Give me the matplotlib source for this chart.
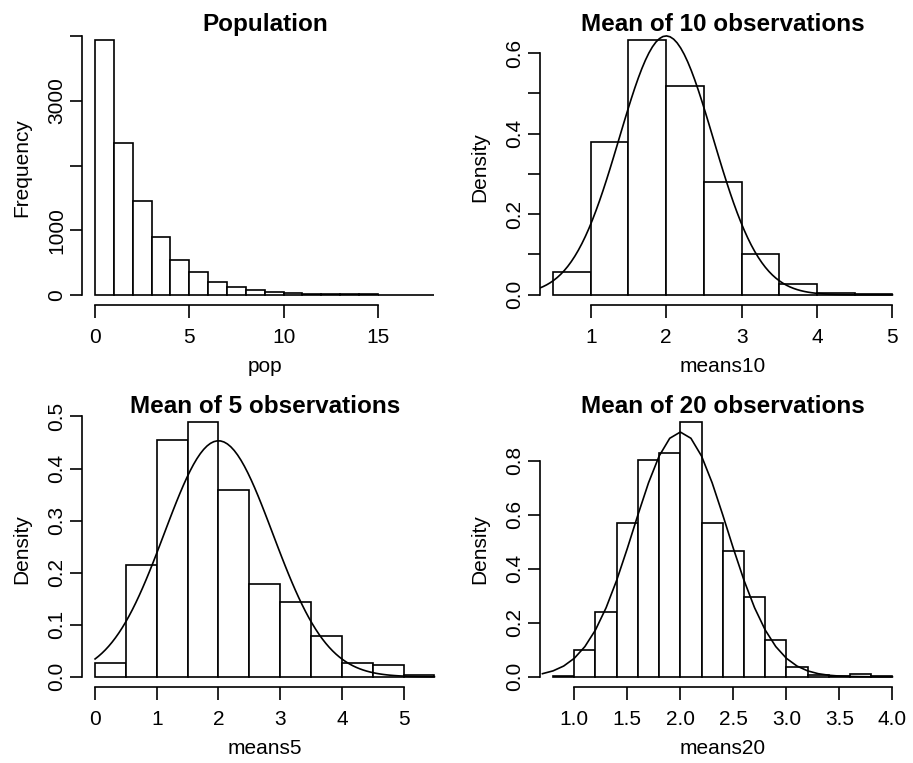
import numpy as np
import matplotlib.pyplot as plt

plt.rcParams['font.family'] = ['Liberation Sans', 'DejaVu Sans']

# === Data ===
# Population (frequency histogram, bin width 1)
pop_breaks = np.arange(0, 19, 1)
pop_counts = [3950, 2350, 1455, 890, 535, 350, 205, 128, 67, 51,
              31, 20, 12, 8, 6, 3, 2, 1]

# Mean of 10 observations (density, bin width 0.5)
means10_breaks = np.arange(0.5, 5.01, 0.5)
means10_density = [0.056, 0.378, 0.633, 0.517, 0.280, 0.102, 0.027, 0.005, 0.002]
means10_norm = (2.0, 0.621)          # mean, sd of the overlaid normal curve

# Mean of 5 observations (density, bin width 0.5)
means5_breaks = np.arange(0.0, 5.51, 0.5)
means5_density = [0.027, 0.214, 0.455, 0.490, 0.358, 0.178, 0.144, 0.079,
                  0.026, 0.022, 0.003]
means5_norm = (2.0, 0.88)

# Mean of 20 observations (density, bin width 0.2)
means20_breaks = np.round(np.arange(0.8, 4.01, 0.2), 1)
means20_density = [0.003, 0.100, 0.240, 0.568, 0.804, 0.830, 0.945, 0.571,
                   0.466, 0.295, 0.135, 0.035, 0.005, 0.004, 0.009, 0.004]
means20_norm = (2.0, 0.44)

LW = 1.2
TICK_FS = 15
LABEL_FS = 15
TITLE_FS = 17.5

W, H = 913, 763
fig = plt.figure(figsize=(W / 100, H / 100), dpi=100)


def panel(left_px, top_px, breaks, heights, title, xlabel, ylabel,
          xticks, xticklabels, yticks, yticklabels, norm=None, curve_x=None):
    w_px, h_px = 366.5, 275.5
    ax = fig.add_axes([left_px / W, 1 - (top_px + h_px) / H, w_px / W, h_px / H])

    ax.bar(breaks[:-1], heights, width=np.diff(breaks), align='edge',
           color='white', edgecolor='black', linewidth=LW)

    # R style: 4% extension around the data range
    x0, x1 = breaks[0], breaks[-1]
    dx = 0.04 * (x1 - x0)
    ax.set_xlim(x0 - dx, x1 + dx)
    ymax = max(heights)
    ax.set_ylim(-0.04 * ymax, 1.04 * ymax)

    if norm is not None:
        lo, hi, n = curve_x
        if lo is None:
            lo = x0 - dx
        xs = np.linspace(lo, hi, n)
        mu, sd = norm
        ys = np.exp(-0.5 * ((xs - mu) / sd) ** 2) / (sd * np.sqrt(2 * np.pi))
        ax.plot(xs, ys, color='black', linewidth=LW)

    for s in ('top', 'right'):
        ax.spines[s].set_visible(False)
    for s in ('left', 'bottom'):
        ax.spines[s].set_linewidth(LW)
    ax.spines['left'].set_bounds(yticks[0], yticks[-1])
    ax.spines['bottom'].set_bounds(xticks[0], xticks[-1])

    ax.set_xticks(xticks, xticklabels)
    ax.set_yticks(yticks, yticklabels, rotation=90, va='center')
    ax.tick_params(axis='both', direction='out', length=9, width=LW,
                   labelsize=TICK_FS, color='black')
    ax.tick_params(axis='x', pad=7.6)
    ax.tick_params(axis='y', pad=1.8)

    ax.set_title(title, fontsize=TITLE_FS, fontweight='bold', y=1.0, pad=-1.0)

    ax.set_xlabel(xlabel, fontsize=LABEL_FS)
    ax.xaxis.label.set_va('baseline')
    ax.xaxis.set_label_coords(0.5, -67.5 / h_px)

    ax.set_ylabel(ylabel, fontsize=LABEL_FS)
    ax.yaxis.label.set_rotation_mode('anchor')
    ax.yaxis.label.set_va('baseline')
    ax.yaxis.label.set_ha('center')
    ax.yaxis.set_label_coords(-54.5 / w_px, 0.5)
    return ax


panel(81.5, 29.5, pop_breaks, pop_counts, 'Population', 'pop', 'Frequency',
      [0, 5, 10, 15], ['0', '5', '10', '15'],
      [0, 1000, 2000, 3000, 4000], ['0', '1000', '', '3000', ''])

panel(539.5, 29.5, means10_breaks, means10_density, 'Mean of 10 observations',
      'means10', 'Density',
      [1, 2, 3, 4, 5], ['1', '2', '3', '4', '5'],
      [0, 0.1, 0.2, 0.3, 0.4, 0.5, 0.6], ['0.0', '', '0.2', '', '0.4', '', '0.6'],
      norm=means10_norm, curve_x=(None, 5.0, 101))

panel(81.5, 411.5, means5_breaks, means5_density, 'Mean of 5 observations',
      'means5', 'Density',
      [0, 1, 2, 3, 4, 5], ['0', '1', '2', '3', '4', '5'],
      [0, 0.1, 0.2, 0.3, 0.4, 0.5], ['0.0', '0.1', '0.2', '0.3', '0.4', '0.5'],
      norm=means5_norm, curve_x=(0.0, 5.5, 101))

panel(539.5, 411.5, means20_breaks, means20_density, 'Mean of 20 observations',
      'means20', 'Density',
      [1.0, 1.5, 2.0, 2.5, 3.0, 3.5, 4.0],
      ['1.0', '1.5', '2.0', '2.5', '3.0', '3.5', '4.0'],
      [0, 0.2, 0.4, 0.6, 0.8], ['0.0', '0.2', '0.4', '0.6', '0.8'],
      norm=means20_norm, curve_x=(0.7, 4.0, 34))

fig.savefig('out.png', dpi=100)
